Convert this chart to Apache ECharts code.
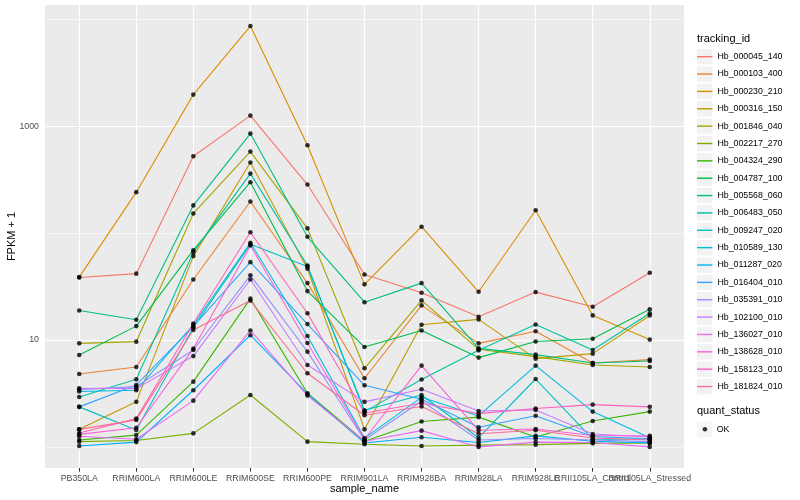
<!DOCTYPE html>
<html><head><meta charset="utf-8">
<script src="https://cdn.jsdelivr.net/npm/echarts@6/dist/echarts.min.js"></script>
<style>html,body{margin:0;padding:0;background:#fff}#c{width:800px;height:500px}</style>
</head><body><div id="c"></div>
<script>
const categories = ["PB350LA","RRIM600LA","RRIM600LE","RRIM600SE","RRIM600PE","RRIM901LA","RRIM928BA","RRIM928LA","RRIM928LE","RRII105LA_Control","RRII105LA_Stressed"];
const trackingIds = ["Hb_000045_140","Hb_000103_400","Hb_000230_210","Hb_000316_150","Hb_001846_040","Hb_002217_270","Hb_004324_290","Hb_004787_100","Hb_005568_060","Hb_006483_050","Hb_009247_020","Hb_010589_130","Hb_011287_020","Hb_016404_010","Hb_035391_010","Hb_102100_010","Hb_136027_010","Hb_138628_010","Hb_158123_010","Hb_181824_010"];
const seriesColors = ["#F8766D","#EA8331","#D89000","#C09B00","#A3A500","#7CAE00","#39B600","#00BB4E","#00BF7D","#00C1A3","#00BFC4","#00BAE0","#00B0F6","#35A2FF","#9590FF","#C77CFF","#E76BF3","#FA62DB","#FF62BC","#FF6C90"];

const hb_000045_140 = [38.5, 41.8, 525, 1260, 285, 41.1, 27.7, 16.5, 28.1, 20.5, 42.7];
const hb_000103_400 = [4.81, 5.60, 36.9, 198, 34.1, 4.39, 21.1, 9.31, 12.1, 6.10, 6.56];
const hb_000230_210 = [38.8, 242, 1980, 8670, 664, 33.2, 115, 28.3, 164, 17.0, 10.1];
const hb_000316_150 = [1.46, 2.64, 61.0, 458, 46.5, 1.46, 13.9, 15.6, 6.70, 7.46, 17.0];
const hb_001846_040 = [9.31, 9.66, 153, 580, 111, 5.44, 23.5, 8.19, 7.00, 5.84, 5.60];
const hb_002217_270 = [1.12, 1.15, 1.34, 3.06, 1.12, 1.06, 1.02, 1.04, 1.05, 1.08, 1.09];
const hb_004324_290 = [1.16, 1.29, 4.08, 24.4, 3.18, 1.13, 1.73, 1.90, 1.24, 1.75, 2.14];
const hb_004787_100 = [7.24, 13.5, 69.3, 300, 28.7, 8.60, 12.3, 6.85, 9.70, 10.3, 19.4];
const hb_005568_060 = [18.9, 15.5, 182, 855, 92.5, 22.6, 34.1, 8.36, 7.31, 6.10, 6.37];
const hb_006483_050 = [2.93, 4.29, 66.4, 361, 49.9, 2.14, 4.27, 8.01, 14.0, 8.07, 17.8];
const hb_009247_020 = [2.37, 1.44, 13.1, 78.9, 48.8, 2.20, 3.06, 1.22, 4.32, 1.18, 1.18];
const hb_010589_130 = [3.30, 3.39, 13.9, 81.3, 10.9, 1.21, 2.91, 1.95, 5.77, 2.14, 1.22];
const hb_011287_020 = [1.02, 1.11, 3.39, 11.1, 3.13, 1.09, 1.23, 1.10, 1.27, 1.13, 1.09];
const hb_016404_010 = [2.37, 3.80, 13.4, 53.6, 14.1, 3.77, 2.79, 1.53, 1.96, 1.25, 1.19];
const hb_035391_010 = [3.44, 3.67, 8.07, 40.3, 7.79, 1.16, 2.69, 1.16, 1.20, 1.16, 1.12];
const hb_102100_010 = [3.54, 3.51, 7.08, 36.9, 5.84, 2.64, 3.46, 2.17, 2.22, 1.32, 1.24];
const hb_136027_010 = [1.26, 1.18, 2.71, 12.3, 3.02, 1.13, 1.42, 1.00, 1.11, 1.10, 1.00];
const hb_138628_010 = [1.31, 1.51, 8.31, 76.7, 9.37, 1.18, 5.77, 1.43, 1.47, 1.28, 1.27];
const hb_158123_010 = [1.35, 1.84, 14.3, 102, 17.8, 2.08, 2.56, 2.05, 2.29, 2.49, 2.37];
const hb_181824_010 = [1.46, 1.79, 12.4, 23.4, 4.89, 1.98, 2.39, 1.33, 1.43, 1.21, 1.16];

const seriesValues = [hb_000045_140, hb_000103_400, hb_000230_210, hb_000316_150, hb_001846_040, hb_002217_270, hb_004324_290, hb_004787_100, hb_005568_060, hb_006483_050, hb_009247_020, hb_010589_130, hb_011287_020, hb_016404_010, hb_035391_010, hb_102100_010, hb_136027_010, hb_138628_010, hb_158123_010, hb_181824_010];

const yLabelValues = [10, 1000];
const yMajorBreaks = [10, 1000];
const yMinorBreaks = [1, 100, 10000];
const quantStatus = ["OK"];

const FONT = '"Liberation Sans", Arial, Helvetica, sans-serif';
const X_MIN = -0.6, X_MAX = categories.length - 1 + 0.6;
const catIdx = categories.map((c, i) => i);
// padded with the axis ends; those two (empty) entries are dropped by showMin/MaxLabel:false
const xTickValues = [X_MIN, ...catIdx, X_MAX];

const lineSeries = trackingIds.map((id, k) => ({
  type: 'line', name: id, color: seriesColors[k],
  data: seriesValues[k].map((v, i) => [i, v]),
  showSymbol: false, symbol: 'none', silent: true, z: 2,
  lineStyle: { width: 1.1, color: seriesColors[k] },
  emphasis: { disabled: true }
}));

const pointData = [];
seriesValues.forEach(arr => arr.forEach((v, i) => pointData.push([i, v])));

const gridLines = [
  ...catIdx.map(i => ({ xAxis: i, lineStyle: { width: 1.1 } })),
  ...yMajorBreaks.map(v => ({ yAxis: v, lineStyle: { width: 1.1 } })),
  ...yMinorBreaks.map(v => ({ yAxis: v, lineStyle: { width: 0.55 } }))
];

const scatterSeries = {
  type: 'scatter', name: quantStatus[0], data: pointData,
  symbol: 'circle', symbolSize: 4.6, itemStyle: { color: '#000' }, z: 3, silent: true,
  emphasis: { disabled: true },
  markLine: {
    silent: true, z: 1, symbol: ['none', 'none'], label: { show: false },
    lineStyle: { color: '#FFFFFF', type: 'solid', width: 1.1 },
    emphasis: { disabled: true }, animation: false,
    data: gridLines
  }
};

const chart = echarts.init(document.getElementById('c'), null, { renderer: 'canvas' });
chart.setOption({
  animation: false,
  backgroundColor: '#FFFFFF',
  textStyle: { fontFamily: FONT },
  grid: { left: 45, right: 116, top: 5, bottom: 32, show: true, backgroundColor: '#EBEBEB', borderWidth: 0, containLabel: false, outerBoundsMode: 'none' },
  title: [
    { text: 'tracking_id', left: 697, top: 33, padding: 0, textStyle: { fontFamily: FONT, fontSize: 11, fontWeight: 'normal', color: '#000' } },
    { text: 'quant_status', left: 697, top: 405, padding: 0, textStyle: { fontFamily: FONT, fontSize: 11, fontWeight: 'normal', color: '#000' } }
  ],
  legend: [
    { data: trackingIds, orient: 'vertical', left: 697, top: 49, padding: 0, icon: 'rect', itemWidth: 15.4, itemHeight: 15.4, itemGap: 1.96,
      itemStyle: { color: '#F2F2F2', borderWidth: 0 }, formatter: () => '', selectedMode: false, textStyle: { fontSize: 1 } },
    { data: trackingIds, orient: 'vertical', left: 697, top: 49, padding: 0, icon: 'rect', itemWidth: 15.4, itemHeight: 1.4, itemGap: 1.96,
      itemStyle: { borderWidth: 0 }, selectedMode: false, textStyle: { fontFamily: FONT, fontSize: 8.8, color: '#000', lineHeight: 15.4 } },
    { data: quantStatus, orient: 'vertical', left: 697, top: 421.6, padding: 0, icon: 'rect', itemWidth: 15.4, itemHeight: 15.4,
      itemStyle: { color: '#F2F2F2', borderWidth: 0 }, formatter: () => '', selectedMode: false, textStyle: { fontSize: 1 } },
    { data: quantStatus, orient: 'vertical', left: 702.6, top: 421.6, padding: 0, icon: 'circle', itemWidth: 4.6, itemHeight: 4.6,
      itemStyle: { borderWidth: 0 }, selectedMode: false, textStyle: { fontFamily: FONT, fontSize: 8.8, color: '#000', lineHeight: 15.4, padding: [0, 0, 0, 4.5] } }
  ],
  xAxis: {
    type: 'value', min: X_MIN, max: X_MAX,
    name: 'sample_name', nameLocation: 'middle', nameGap: 15, nameMoveOverlap: false,
    nameTextStyle: { fontFamily: FONT, fontSize: 11, color: '#000' },
    axisLine: { show: false }, splitLine: { show: false },
    axisTick: { show: true, customValues: xTickValues, length: 3.7, lineStyle: { color: '#333333', width: 1.07 } },
    axisLabel: { customValues: xTickValues, formatter: v => (categories[v] !== undefined ? categories[v] : ''), fontFamily: FONT, fontSize: 8.8, color: '#4D4D4D', margin: 6,
      hideOverlap: false, showMinLabel: false, showMaxLabel: false }
  },
  yAxis: {
    type: 'log', logBase: 10, min: 0.635, max: 13650,
    name: 'FPKM + 1', nameLocation: 'middle', nameGap: 28, nameRotate: 90, nameMoveOverlap: false,
    nameTextStyle: { fontFamily: FONT, fontSize: 11, color: '#000' },
    axisLine: { show: false }, splitLine: { show: false }, minorSplitLine: { show: false },
    axisTick: { show: true, customValues: yLabelValues, length: 3.7, lineStyle: { color: '#333333', width: 1.07 } },
    axisLabel: { customValues: yLabelValues, formatter: v => String(v), fontFamily: FONT, fontSize: 8.8, color: '#4D4D4D', margin: 6, showMinLabel: true, showMaxLabel: true }
  },
  series: [...lineSeries, scatterSeries]
});
</script></body></html>
